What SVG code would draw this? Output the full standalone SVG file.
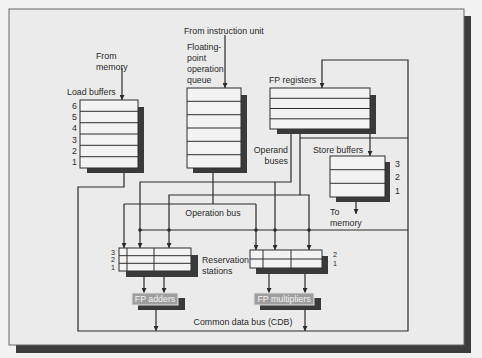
<svg xmlns="http://www.w3.org/2000/svg" width="482" height="358" viewBox="0 0 482 358">
<defs>
<style>
text{font-family:"Liberation Sans",Arial,sans-serif;font-size:8.8px;fill:#2a2a2a}
text.sm{font-size:7.2px}
.box{fill:#f3f3f3;stroke:#2e2e2e;stroke-width:1}
.sh{fill:#3a3a3a}
.ln{stroke:#2e2e2e;stroke-width:1}
.w{fill:none;stroke:#2a2a2a;stroke-width:1.2}
.fu{fill:#9e9e9e;stroke:#e0e0e0;stroke-width:1}
.fut{fill:#f4f4f4}
.dot{fill:#2a2a2a}
</style>
<marker id="ah" markerWidth="5" markerHeight="5" refX="5" refY="2.5" orient="auto" markerUnits="userSpaceOnUse">
<path d="M0,0 L5,2.5 L0,5 z" fill="#2a2a2a"/>
</marker>
</defs>
<rect x="0" y="0" width="482" height="358" fill="#f2f2f2"/>
<rect x="16" y="16" width="455" height="337" fill="#3c3c3c"/>
<rect x="9" y="9" width="455" height="336" fill="#ebebeb" stroke="#666" stroke-width="1"/>

<g id="connectors">
<path class="w" d="M122,68 V100" marker-end="url(#ah)"/>
<path class="w" d="M225,35 V88" marker-end="url(#ah)"/>
<path class="w" d="M124,168 V187 H78 V331 H408 V60 H322 V88" marker-end="url(#ah)"/>
<path class="w" d="M408,138 H300"/>
<path class="w" d="M140,230 H408"/>
<path class="w" d="M370,134 V156" marker-end="url(#ah)"/>
<path class="w" d="M356,202 V214" marker-end="url(#ah)"/>
<path class="w" d="M291,129 V182 H140 V248" marker-end="url(#ah)"/>
<path class="w" d="M275,182 V250" marker-end="url(#ah)"/>
<path class="w" d="M300,129 V195 H169 V248" marker-end="url(#ah)"/>
<path class="w" d="M300,195 H309 V250" marker-end="url(#ah)"/>
<path class="w" d="M213,168 V204"/>
<path class="w" d="M124,204 H256"/>
<path class="w" d="M124,204 V248" marker-end="url(#ah)"/>
<path class="w" d="M256,204 V250" marker-end="url(#ah)"/>
<path class="w" d="M144,272 V293" marker-end="url(#ah)"/>
<path class="w" d="M164,272 V293" marker-end="url(#ah)"/>
<path class="w" d="M269,268 V293" marker-end="url(#ah)"/>
<path class="w" d="M305,268 V293" marker-end="url(#ah)"/>
<path class="w" d="M156,310 V331" marker-end="url(#ah)"/>
<path class="w" d="M305,310 V331" marker-end="url(#ah)"/>
<circle class="dot" cx="140" cy="230" r="1.8"/>
<circle class="dot" cx="169" cy="230" r="1.8"/>
<circle class="dot" cx="256" cy="230" r="1.8"/>
<circle class="dot" cx="275" cy="230" r="1.8"/>
<circle class="dot" cx="309" cy="230" r="1.8"/>
</g>

<g id="load-buffers">
<rect class="sh" x="87" y="107" width="57" height="66"/>
<rect class="box" x="80" y="100" width="58" height="68"/>
<path class="ln" d="M80,111.3H138M80,122.7H138M80,134H138M80,145.3H138M80,156.7H138"/>
<text x="67" y="95">Load buffers</text>
<text x="72" y="109">6</text><text x="72" y="120">5</text><text x="72" y="131">4</text>
<text x="72" y="143">3</text><text x="72" y="154">2</text><text x="72" y="165">1</text>
<text x="96" y="59">From</text>
<text x="96" y="70">memory</text>
</g>

<g id="fp-queue">
<rect class="sh" x="193" y="95" width="54" height="78"/>
<rect class="box" x="187" y="88" width="54" height="80"/>
<path class="ln" d="M187,101.3H241M187,114.7H241M187,128H241M187,141.3H241M187,154.7H241"/>
<text x="184" y="34">From instruction unit</text>
<text x="187" y="50">Floating-</text>
<text x="187" y="61">point</text>
<text x="187" y="72">operation</text>
<text x="187" y="83">queue</text>
</g>

<g id="fp-registers">
<rect class="sh" x="277" y="95" width="99" height="39"/>
<rect class="box" x="270" y="88" width="100" height="41"/>
<path class="ln" d="M270,98.3H370M270,108.5H370M270,118.8H370"/>
<text x="269" y="83">FP registers</text>
</g>

<text x="288" y="153" text-anchor="end">Operand</text>
<text x="288" y="164" text-anchor="end">buses</text>

<g id="store-buffers">
<rect class="sh" x="336" y="162" width="54" height="40"/>
<rect class="box" x="330" y="156" width="55" height="41"/>
<path class="ln" d="M330,169.7H385M330,183.3H385"/>
<text x="313" y="153">Store buffers</text>
<text x="395" y="167">3</text><text x="395" y="180">2</text><text x="395" y="194">1</text>
<text x="330" y="215">To</text>
<text x="330" y="226">memory</text>
</g>

<text x="213" y="216" text-anchor="middle">Operation bus</text>

<g id="rs-add">
<rect class="sh" x="126" y="255" width="72" height="22"/>
<rect class="box" x="119" y="248" width="72" height="23"/>
<path class="ln" d="M119,255.7H191M119,263.3H191M127,248V271M154,248V271"/>
<text class="sm" x="111" y="254.5">3</text><text class="sm" x="111" y="262">2</text><text class="sm" x="111" y="269.5">1</text>
<text x="202" y="263">Reservation</text>
<text x="202" y="274">stations</text>
</g>

<g id="rs-mul">
<rect class="sh" x="256" y="256" width="72" height="18"/>
<rect class="box" x="250" y="250" width="72" height="18"/>
<path class="ln" d="M250,259H322M263,250V268M291,250V268"/>
<text class="sm" x="333" y="257">2</text><text class="sm" x="333" y="266">1</text>
</g>

<g id="fp-adders">
<rect class="sh" x="138" y="298" width="47" height="12"/>
<rect class="fu" x="132" y="293" width="46" height="12"/>
<text class="fut" x="155" y="302" text-anchor="middle">FP adders</text>
</g>

<g id="fp-multipliers">
<rect class="sh" x="260" y="298" width="61" height="12"/>
<rect class="fu" x="254" y="293" width="60" height="12"/>
<text class="fut" x="284" y="302" text-anchor="middle">FP multipliers</text>
</g>

<text x="243" y="325" text-anchor="middle">Common data bus (CDB)</text>
</svg>
